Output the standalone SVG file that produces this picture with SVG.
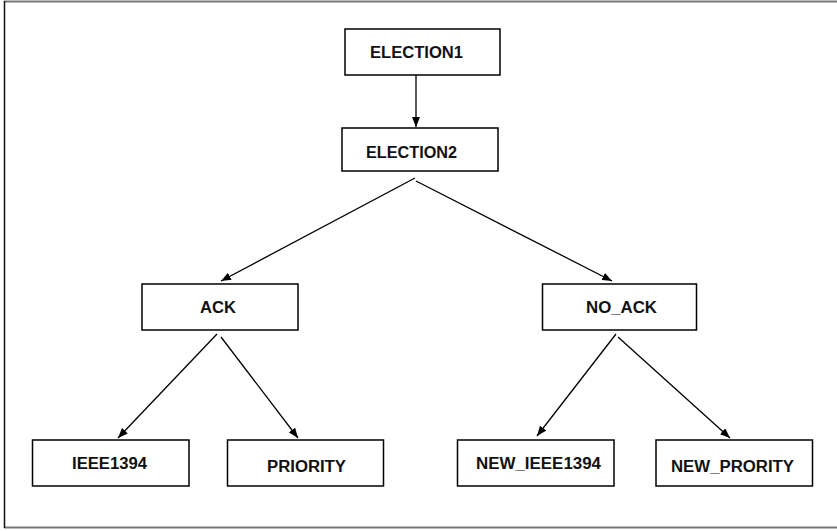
<svg xmlns="http://www.w3.org/2000/svg" width="837" height="531" viewBox="0 0 837 531">
  <style>
    .box { fill: #ffffff; stroke: #000000; stroke-width: 1.5; }
    .label { font-family: "Liberation Sans", Arial, sans-serif; font-weight: bold; font-size: 16px; fill: #111111; }
    .edge { stroke: #000000; stroke-width: 1.3; fill: none; marker-end: url(#arrow); }
  </style>
  <defs>
    <marker id="arrow" viewBox="0 0 10 8" refX="10" refY="4" markerWidth="10" markerHeight="8" markerUnits="userSpaceOnUse" orient="auto">
      <path d="M0,0 L10,4 L0,8 Z" fill="#000000"/>
    </marker>
  </defs>

  <rect width="837" height="531" fill="#ffffff"/>
  <!-- frame -->
  <g id="frame">
    <line x1="4" y1="1.5" x2="837" y2="1.5" stroke="#777777" stroke-width="2"/>
    <line x1="4" y1="527.5" x2="837" y2="527.5" stroke="#777777" stroke-width="2"/>
    <line x1="4.5" y1="1" x2="4.5" y2="528" stroke="#111111" stroke-width="1.5"/>
  </g>

  <g id="connectors">
    <line class="edge" x1="416" y1="75" x2="416" y2="127"/>
    <line class="edge" x1="415" y1="178" x2="221" y2="281"/>
    <line class="edge" x1="416" y1="181" x2="612" y2="281"/>
    <line class="edge" x1="217" y1="334" x2="118" y2="438"/>
    <line class="edge" x1="221" y1="337" x2="298" y2="438"/>
    <line class="edge" x1="616" y1="334" x2="537" y2="436"/>
    <line class="edge" x1="618" y1="337" x2="730" y2="438"/>
  </g>

  <g id="election1">
    <rect class="box" x="345" y="29" width="155" height="46"/>
    <text class="label" x="370" y="58" textLength="93" lengthAdjust="spacingAndGlyphs">ELECTION1</text>
  </g>
  <g id="election2">
    <rect class="box" x="342" y="128" width="156" height="43"/>
    <text class="label" x="366" y="158" textLength="91" lengthAdjust="spacingAndGlyphs">ELECTION2</text>
  </g>
  <g id="ack">
    <rect class="box" x="142" y="284" width="156" height="46"/>
    <text class="label" x="200" y="313" textLength="36" lengthAdjust="spacingAndGlyphs">ACK</text>
  </g>
  <g id="no_ack">
    <rect class="box" x="542.5" y="284" width="154" height="46"/>
    <text class="label" x="586" y="313" textLength="71" lengthAdjust="spacingAndGlyphs">NO_ACK</text>
  </g>
  <g id="ieee1394">
    <rect class="box" x="32.5" y="440" width="156.5" height="46"/>
    <text class="label" x="72" y="469" textLength="75" lengthAdjust="spacingAndGlyphs">IEEE1394</text>
  </g>
  <g id="priority">
    <rect class="box" x="227.5" y="440" width="156" height="46"/>
    <text class="label" x="267" y="472" textLength="79" lengthAdjust="spacingAndGlyphs">PRIORITY</text>
  </g>
  <g id="new_ieee1394">
    <rect class="box" x="457.5" y="440" width="156.5" height="46"/>
    <text class="label" x="476" y="469" textLength="125" lengthAdjust="spacingAndGlyphs">NEW_IEEE1394</text>
  </g>
  <g id="new_prority">
    <rect class="box" x="656" y="440" width="156.5" height="46"/>
    <text class="label" x="671" y="472" textLength="123" lengthAdjust="spacingAndGlyphs">NEW_PRORITY</text>
  </g>
</svg>
